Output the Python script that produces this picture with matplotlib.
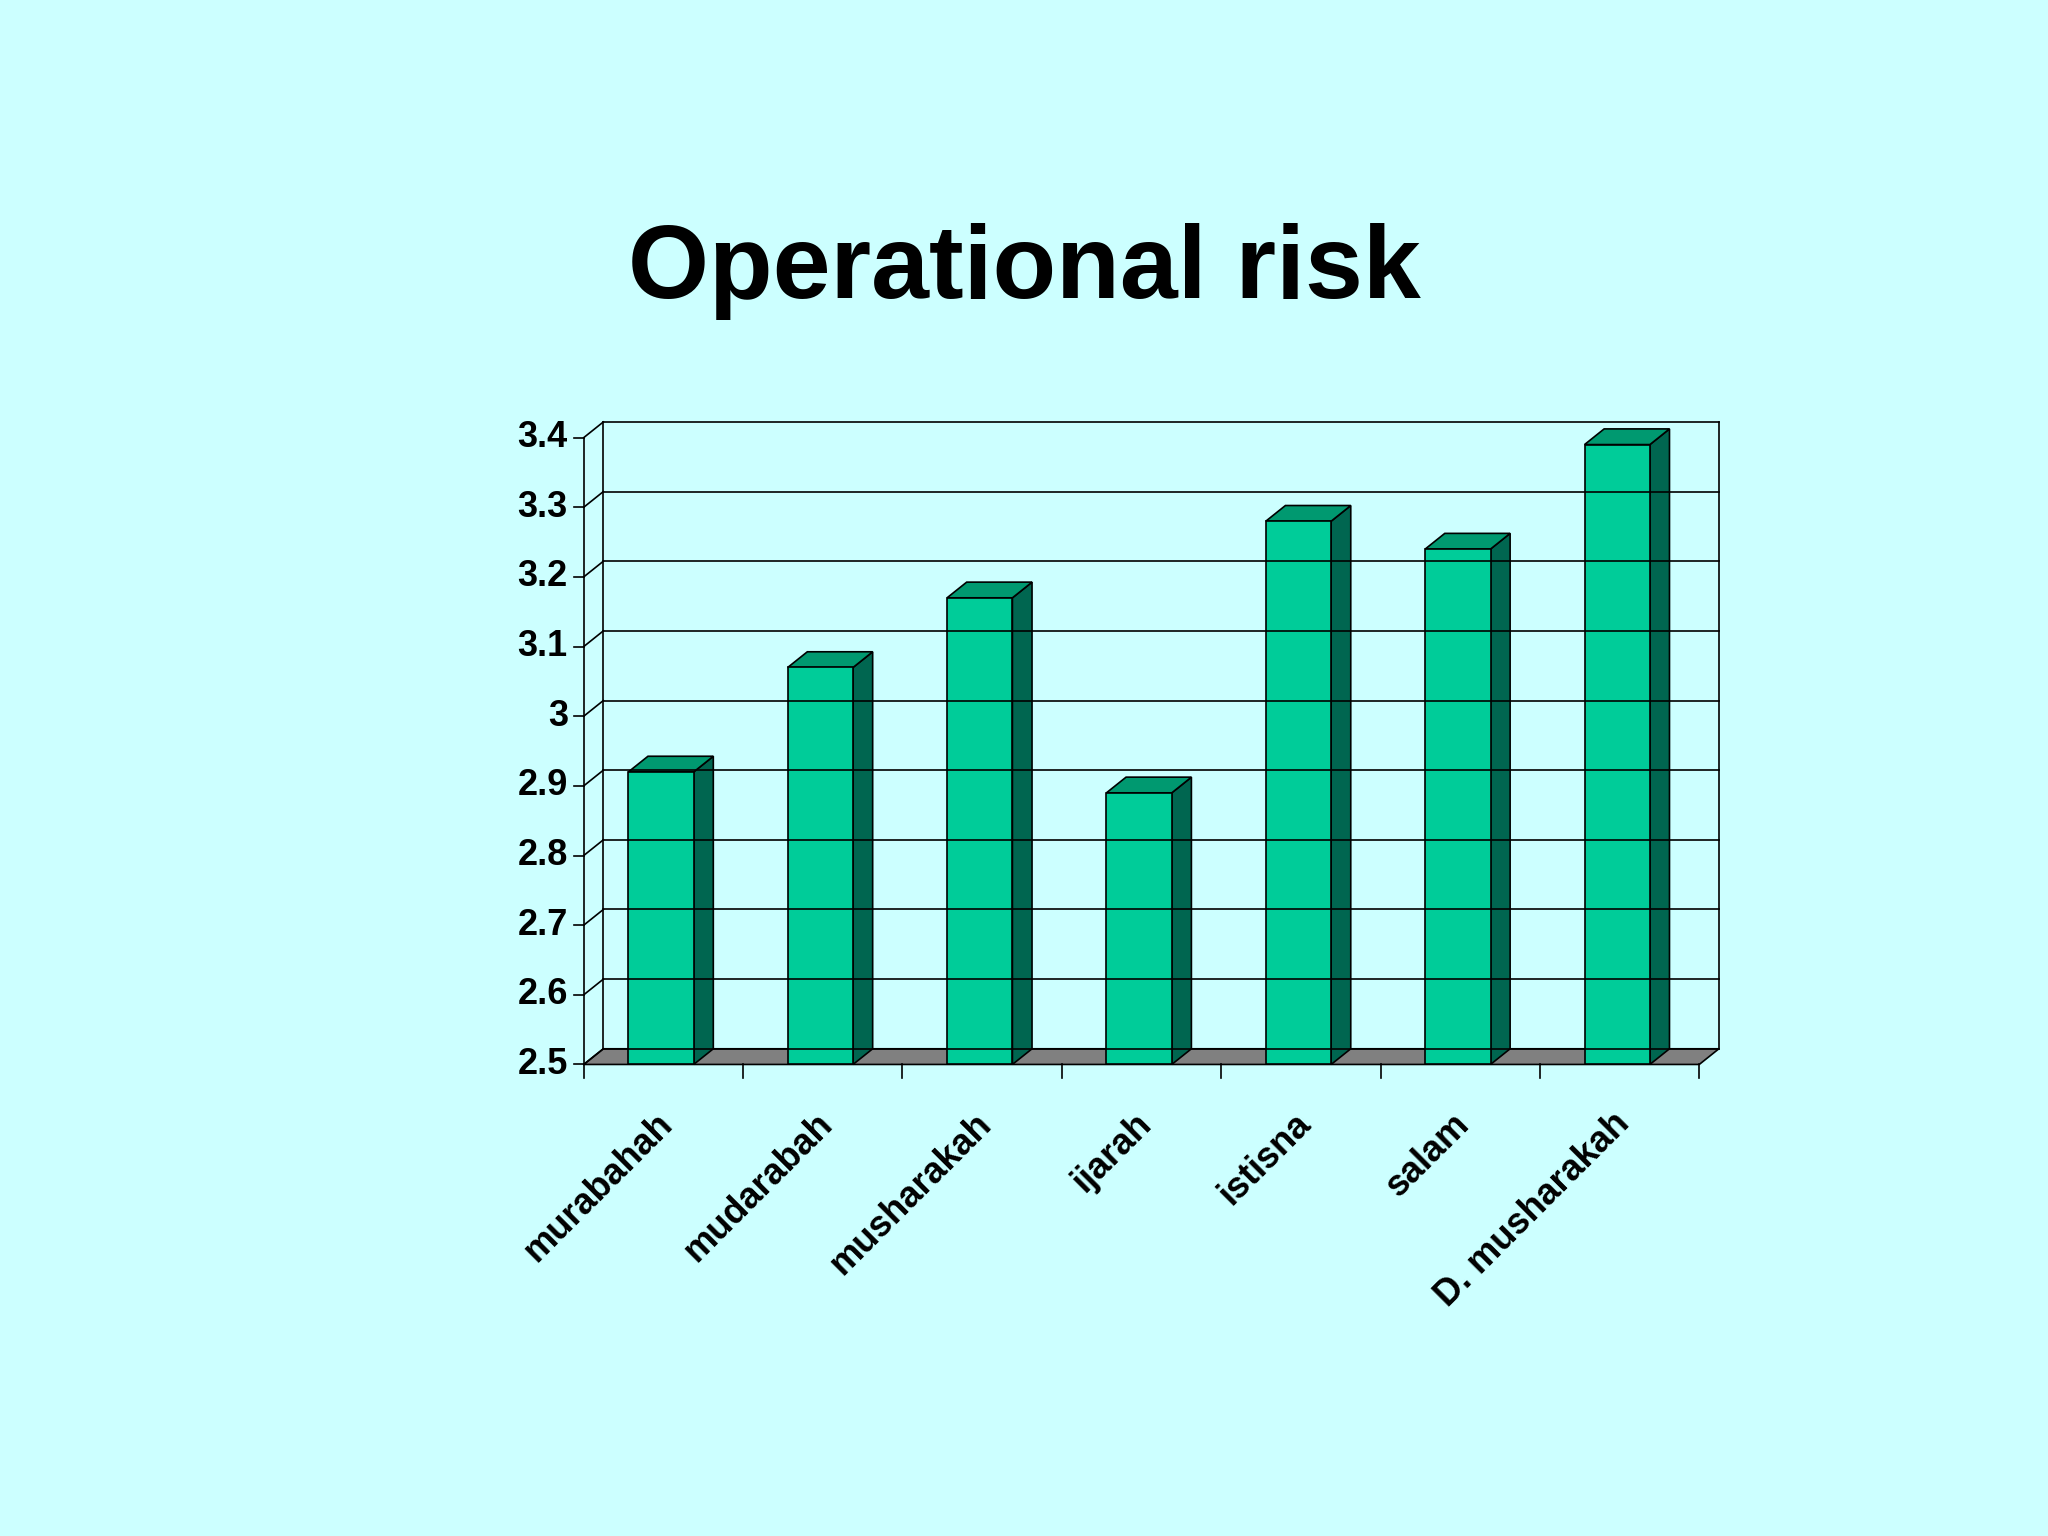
import matplotlib
matplotlib.use("Agg")
from matplotlib import pyplot as plt
from matplotlib.patches import Polygon

categories = ["murabahah", "mudarabah", "musharakah", "ijarah", "istisna", "salam", "D. musharakah"]
values = [2.92, 3.07, 3.17, 2.89, 3.28, 3.24, 3.39]
yticks = [2.5, 2.6, 2.7, 2.8, 2.9, 3.0, 3.1, 3.2, 3.3, 3.4]
ylabels = ["2.5", "2.6", "2.7", "2.8", "2.9", "3", "3.1", "3.2", "3.3", "3.4"]

bg = "#CCFFFF"
front_c = "#00CC99"
side_c = "#006650"
top_c = "#009970"

plt.rcParams['font.family'] = ['Liberation Sans', 'DejaVu Sans']
fig = plt.figure(figsize=(20.48, 15.36), dpi=100, facecolor=bg)
ax = fig.add_axes([0.2946, 0.3172, 0.5447, 0.4081])
ax.set_facecolor(bg)
n = len(categories)
ymin, ymax = 2.5, 3.4
ax.set_xlim(0, n)
ax.set_ylim(ymin, ymax)
ax.axis("off")

d = 0.123   # depth offset in category units
e = 0.0225  # depth offset in value units
lw = 1.2

# back wall grid + left wall
for v in yticks:
    ax.plot([0, n], [v, v], color="black", lw=lw, clip_on=False)
    ax.plot([-d, 0], [v - e, v], color="black", lw=lw, clip_on=False)
ax.plot([0, 0], [ymin, ymax], color="black", lw=lw, clip_on=False)
ax.plot([n, n], [ymin, ymax], color="black", lw=lw, clip_on=False)

# floor
ax.add_patch(Polygon([(-d, ymin - e), (n - d, ymin - e), (n, ymin), (0, ymin)],
                     closed=True, facecolor="#808080", edgecolor="black", lw=lw, clip_on=False))

# front y axis
ax.plot([-d, -d], [ymin - e, ymax - e], color="black", lw=lw, clip_on=False)
for v, lab in zip(yticks, ylabels):
    ax.plot([-d - 0.06, -d], [v - e, v - e], color="black", lw=lw, clip_on=False)
    ax.text(-d - 0.1, v - e, lab, ha="right", va="center", fontsize=26, fontweight="bold")

# x ticks and labels
for i in range(n + 1):
    ax.plot([i - d, i - d], [ymin - e, ymin - e - 0.02], color="black", lw=lw, clip_on=False)
for i, c in enumerate(categories):
    ax.text(i + 0.45 - d, ymin - e - 0.06, c, ha="right", va="top", rotation=45,
            rotation_mode="anchor", fontsize=26, fontweight="bold")

# bars
x0off, w = 0.28, 0.41
for i, v in enumerate(values):
    x0 = i + x0off - d
    x1 = x0 + w
    y0 = ymin - e
    y1 = v - e
    ax.add_patch(Polygon([(x1, y0), (x1 + d, y0 + e), (x1 + d, y1 + e), (x1, y1)],
                         closed=True, facecolor=side_c, edgecolor="black", lw=lw, clip_on=False))
    ax.add_patch(Polygon([(x0, y1), (x1, y1), (x1 + d, y1 + e), (x0 + d, y1 + e)],
                         closed=True, facecolor=top_c, edgecolor="black", lw=lw, clip_on=False))
    ax.add_patch(Polygon([(x0, y0), (x1, y0), (x1, y1), (x0, y1)],
                         closed=True, facecolor=front_c, edgecolor="black", lw=lw, clip_on=False))

fig.text(0.5, 0.823, "Operational risk", ha="center", va="center", fontsize=75, fontweight="bold")

fig.savefig("out.png", dpi=100, facecolor=bg)
